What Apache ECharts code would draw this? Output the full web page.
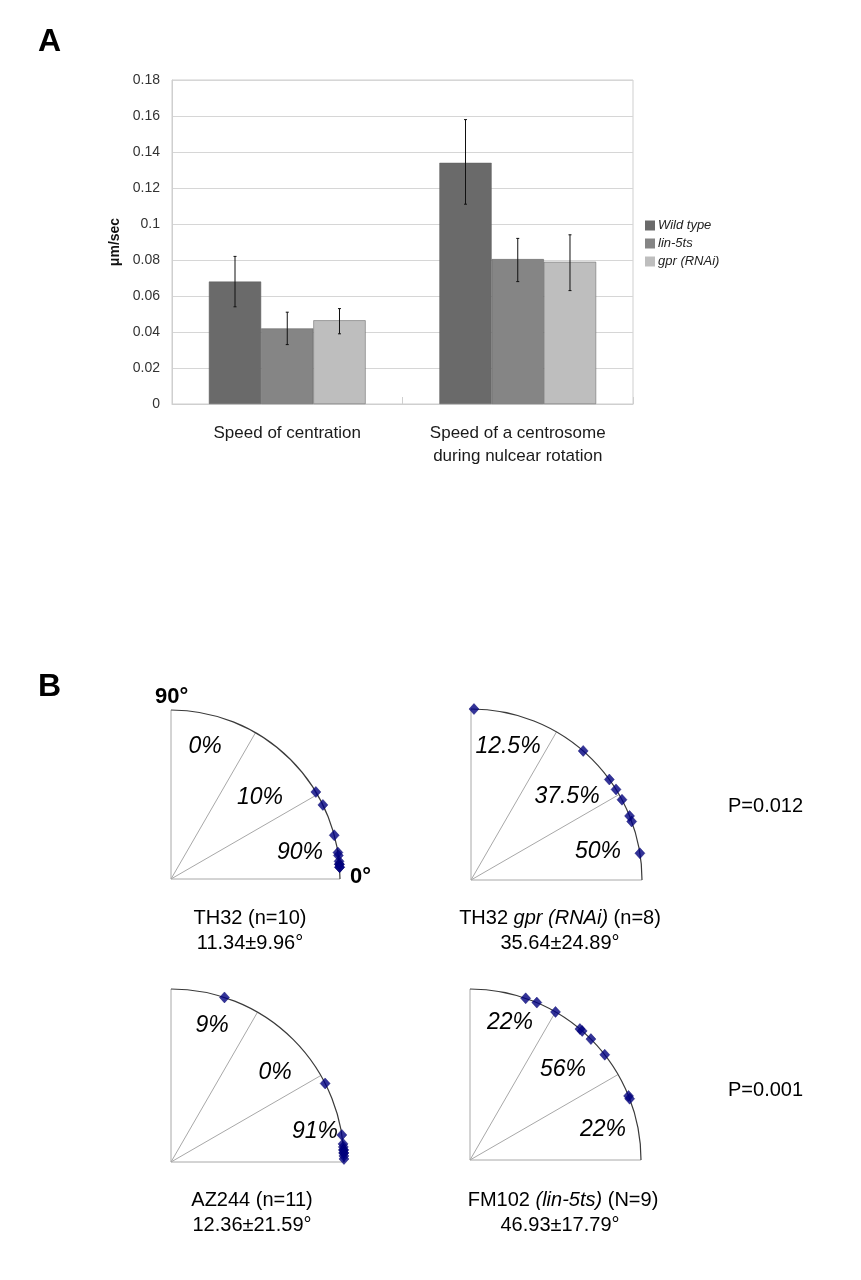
<!DOCTYPE html>
<html><head><meta charset="utf-8">
<script src="https://cdn.jsdelivr.net/npm/echarts@6/dist/echarts.min.js"></script>
<style>html,body{margin:0;padding:0;background:#fff;}#c{width:861px;height:1280px;}</style>
</head><body><div id="c"></div>
<script>
// ---------- Data: panel A ----------
const categories = ['Speed of centration', 'Speed of a centrosome\nduring nulcear rotation'];
const seriesNames = ['Wild type', 'lin-5ts', 'gpr (RNAi)'];
const wildType = [0.068, 0.134];
const lin5ts = [0.042, 0.0805];
const gprRNAi = [0.0465, 0.079];
const wildTypeErr = [[0.054, 0.082], [0.111, 0.158]];
const lin5tsErr = [[0.033, 0.051], [0.068, 0.092]];
const gprRNAiErr = [[0.039, 0.053], [0.063, 0.094]];
const yMin = 0, yMax = 0.18, yStep = 0.02;

// ---------- Data: panel B (angles in degrees, 0 = horizontal) ----------
const th32Angles = [31, 26, 15, 9, 8, 6, 5, 5, 4, 4];
const th32gprAngles = [89, 49, 36, 32, 28, 22, 20, 9];
const az244Angles = [72, 27, 9, 6, 5, 4, 4, 3, 3, 2, 1];
const fm102Angles = [71, 67, 60, 50, 49, 45, 38, 22, 21];
const th32Pct = ['0%', '10%', '90%'];
const th32gprPct = ['12.5%', '37.5%', '50%'];
const az244Pct = ['9%', '0%', '91%'];
const fm102Pct = ['22%', '56%', '22%'];
const sectorTicks = [0, 30, 60, 90];

const FONT = 'Liberation Sans, Arial, sans-serif';
const chart = echarts.init(document.getElementById('c'), null, {renderer: 'canvas'});

const barColors = ['#6a6a6a', '#858585', '#bebebe'];
const values = [wildType, lin5ts, gprRNAi];
const errs = [wildTypeErr, lin5tsErr, gprRNAiErr];
const CAT_GAP = 0.32;

const errData = [];
errs.forEach((e, s) => e.forEach((lh, c) => errData.push([c, s, lh[0], lh[1]])));

const polars = [
  {center: [171, 879], r: 169, angles: th32Angles, pct: th32Pct,
   pctPos: [[205, 747], [260, 798], [300, 853]]},
  {center: [471, 880], r: 171, angles: th32gprAngles, pct: th32gprPct,
   pctPos: [[508, 747], [567, 797], [598, 852]]},
  {center: [171, 1162], r: 173, angles: az244Angles, pct: az244Pct,
   pctPos: [[212, 1026], [275, 1073], [315, 1132]]},
  {center: [470, 1160], r: 171, angles: fm102Angles, pct: fm102Pct,
   pctPos: [[510, 1023], [563, 1070], [603, 1130]]}
];

const series = values.map((v, i) => ({
  type: 'bar', name: seriesNames[i], data: v, barGap: '0%', barCategoryGap: (CAT_GAP * 100) + '%',
  itemStyle: {color: barColors[i], borderColor: '#5e5e5e', borderWidth: 0.5},
  xAxisIndex: 0, yAxisIndex: 0
}));
series.push({
  type: 'custom', name: 'err', data: errData, xAxisIndex: 0, yAxisIndex: 0, z: 5,
  encode: {x: 0, y: [2, 3]},
  renderItem: function (params, api) {
    const c = api.value(0), s = api.value(1), lo = api.value(2), hi = api.value(3);
    const band = api.size([1, 0])[0];
    const bw = band * (1 - CAT_GAP) / 3;
    const x = api.coord([c, 0])[0] + (s - 1) * bw;
    const y1 = api.coord([c, lo])[1], y2 = api.coord([c, hi])[1];
    const st = {stroke: '#111', lineWidth: 1};
    return {type: 'group', children: [
      {type: 'line', shape: {x1: x, y1: y1, x2: x, y2: y2}, style: st},
      {type: 'line', shape: {x1: x - 1.5, y1: y1, x2: x + 1.5, y2: y1}, style: st},
      {type: 'line', shape: {x1: x - 1.5, y1: y2, x2: x + 1.5, y2: y2}, style: st}
    ]};
  }
});

const polarOpts = [], angleAxes = [], radiusAxes = [];
polars.forEach((p, i) => {
  polarOpts.push({center: p.center, radius: p.r});
  angleAxes.push({
    polarIndex: i, type: 'value', min: sectorTicks[0], max: sectorTicks[sectorTicks.length - 1],
    interval: sectorTicks[1] - sectorTicks[0], startAngle: 0, endAngle: 90, clockwise: false,
    axisLine: {show: true, lineStyle: {color: '#3a3a3a', width: 1.2}},
    axisTick: {show: false}, axisLabel: {show: false},
    splitLine: {show: true, lineStyle: {color: '#a8a8a8', width: 1}}
  });
  radiusAxes.push({polarIndex: i, min: 0, max: 1, axisLine: {show: false}, axisTick: {show: false},
    axisLabel: {show: false}, splitLine: {show: false}});
  series.push({
    type: 'scatter', coordinateSystem: 'polar', polarIndex: i, clip: false,
    symbol: 'diamond', symbolSize: [10, 11],
    itemStyle: {color: '#000080', borderColor: '#000066', borderWidth: 0.5},
    data: p.angles.map(a => [1, a]), z: 10
  });
});

const graphics = [
  {type: 'text', left: 38, top: 26, style: {text: 'A', font: 'bold 32px ' + FONT, fill: '#000'}},
  {type: 'text', left: 38, top: 671, style: {text: 'B', font: 'bold 32px ' + FONT, fill: '#000'}},
  {type: 'text', x: 155, y: 697, style: {text: '90°', font: 'bold 22px ' + FONT, fill: '#000', verticalAlign: 'middle'}},
  {type: 'text', x: 350, y: 877, style: {text: '0°', font: 'bold 22px ' + FONT, fill: '#000', verticalAlign: 'middle'}},
  {type: 'text', x: 728, y: 806, style: {text: 'P=0.012', font: '20px ' + FONT, fill: '#000', verticalAlign: 'middle'}},
  {type: 'text', x: 728, y: 1090, style: {text: 'P=0.001', font: '20px ' + FONT, fill: '#000', verticalAlign: 'middle'}}
];
polars.forEach(p => {
  p.pct.forEach((t, k) => graphics.push({type: 'text', x: p.pctPos[k][0], y: p.pctPos[k][1],
    style: {text: t, font: 'italic 23px ' + FONT, fill: '#000', align: 'center', verticalAlign: 'middle'}}));
});
const capRich = {a: {fontFamily: FONT, fontSize: 20, color: '#000'},
                 i: {fontFamily: FONT, fontSize: 20, fontStyle: 'italic', color: '#000'}};
const captions = [
  [250, 918, '{a|TH32 (n=10)}'], [250, 943, '{a|11.34±9.96°}'],
  [560, 918, '{a|TH32 }{i|gpr (RNAi)}{a| (n=8)}'], [560, 943, '{a|35.64±24.89°}'],
  [252, 1200, '{a|AZ244 (n=11)}'], [252, 1225, '{a|12.36±21.59°}'],
  [563, 1200, '{a|FM102 }{i|(lin-5ts)}{a| (N=9)}'], [560, 1225, '{a|46.93±17.79°}']
];
captions.forEach(c => graphics.push({type: 'text', x: c[0], y: c[1],
  style: {text: c[2], rich: capRich, align: 'center', verticalAlign: 'middle'}}));

chart.setOption({
  animation: false,
  backgroundColor: '#fff',
  textStyle: {fontFamily: FONT},
  legend: {
    data: seriesNames, orient: 'vertical', left: 640, top: 214, itemWidth: 10, itemHeight: 10,
    itemGap: 5, icon: 'rect', selectedMode: false,
    itemStyle: {borderWidth: 0},
    textStyle: {fontStyle: 'italic', fontSize: 13, color: '#222', fontFamily: FONT, padding: [0, 0, 0, -2]}
  },
  grid: {left: 172, right: 228, top: 80, bottom: 876, show: true, borderColor: '#cfcfcf', borderWidth: 1},
  xAxis: {
    type: 'category', data: categories, gridIndex: 0,
    axisLine: {lineStyle: {color: '#cfcfcf'}},
    axisTick: {show: true, inside: true, length: 7, lineStyle: {color: '#cfcfcf'}},
    axisLabel: {fontSize: 17, color: '#1a1a1a', margin: 18, lineHeight: 23, interval: 0}
  },
  yAxis: {
    type: 'value', min: yMin, max: yMax, interval: yStep, gridIndex: 0,
    name: 'μm/sec', nameLocation: 'middle', nameGap: 44, nameRotate: 90,
    nameTextStyle: {fontWeight: 'bold', fontSize: 14, color: '#111'},
    axisLine: {show: true, lineStyle: {color: '#cfcfcf'}}, axisTick: {show: false},
    axisLabel: {fontSize: 14, color: '#333', margin: 12},
    splitLine: {lineStyle: {color: '#d6d6d6'}}
  },
  polar: polarOpts,
  angleAxis: angleAxes,
  radiusAxis: radiusAxes,
  series: series,
  graphic: graphics
});
</script></body></html>
